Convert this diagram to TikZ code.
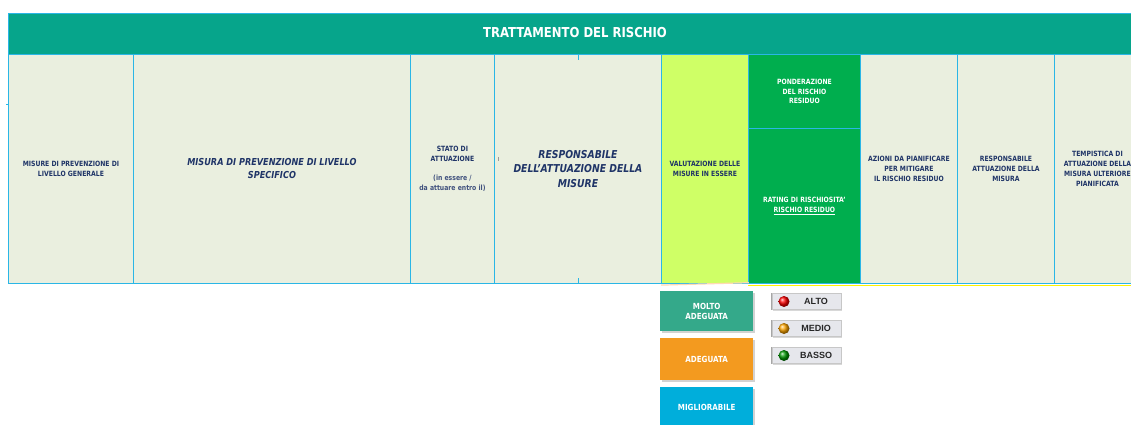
\documentclass[tikz,border=0pt]{standalone}
\usepackage{fontspec}
\setmainfont{DejaVu Sans}[FakeStretch=0.85]
\newfontfamily\btnfont{Liberation Sans}
\usetikzlibrary{shadows}
\definecolor{hdr}{HTML}{06A58B}
\definecolor{bord}{HTML}{2AB6E6}
\definecolor{cellbg}{HTML}{EAEFDF}
\definecolor{lime}{HTML}{CFFF66}
\definecolor{grn}{HTML}{00AE4E}
\definecolor{navy}{HTML}{1F3467}
\definecolor{teal}{HTML}{34A98A}
\definecolor{orng}{HTML}{F39A1F}
\definecolor{cyanb}{HTML}{00AEDB}
\definecolor{btnbg}{HTML}{E6E7EC}
\begin{document}
\begin{tikzpicture}[x=1pt,y=-1pt,
  cell/.style={draw=bord, line width=0.9pt, inner sep=0pt, anchor=north west, align=center, text=navy, fill=cellbg},
  small/.style={font=\fontsize{7.2}{9.8}\selectfont\bfseries},
  legbox/.style={inner sep=0pt, anchor=north west, minimum width=93pt, minimum height=40pt, align=center, text=white,
     font=\fontsize{8.4}{10}\selectfont\bfseries, drop shadow={shadow xshift=1.5pt, shadow yshift=-2pt, opacity=0.35}},
  btn/.style={draw=black!22, inner sep=0pt, minimum width=69pt, minimum height=16pt, fill=btnbg,
     drop shadow={shadow xshift=1pt, shadow yshift=-1.5pt, opacity=0.3}},
  btntext/.style={font=\btnfont\fontsize{9}{10}\selectfont\bfseries, text=black!85},
  ball/.style={circle, inner sep=0pt, minimum size=11pt}]
\useasboundingbox (0,0) rectangle (1131,424);
\fill[white] (0,0) rectangle (1131,424);
% header
\node[draw=bord, line width=0.9pt, fill=hdr, inner sep=0pt, anchor=north west, minimum width=1132pt, minimum height=41pt] (hdr) at (8,13) {};
\node[text=white, font=\fontsize{13.7}{16}\selectfont\bfseries] (title) at (575,33) {TRATTAMENTO DEL RISCHIO};
% columns
\node[cell, small, minimum width=125pt, minimum height=229pt] (c1) at (8,54) {MISURE DI PREVENZIONE DI\\LIVELLO GENERALE};
\node[cell, minimum width=277pt, minimum height=229pt, font=\fontsize{9.6}{13}\selectfont\bfseries\itshape] (c2) at (133,54) {MISURA DI PREVENZIONE DI LIVELLO\\SPECIFICO};
\node[cell, small, minimum width=84pt, minimum height=229pt] (c3) at (410,54) {STATO DI\\ATTUAZIONE\\[9.8pt]{\color{navy!85}(in essere /}\\{\color{navy!85}da attuare entro il)}};
\node[cell, minimum width=167pt, minimum height=229pt, font=\fontsize{10.9}{14.3}\selectfont\bfseries\itshape] (c4) at (494,54) {RESPONSABILE\\DELL’ATTUAZIONE DELLA\\MISURE};
\node[cell, small, fill=lime, minimum width=87pt, minimum height=229pt] (c5) at (661,54) {VALUTAZIONE DELLE\\MISURE IN ESSERE};
\node[cell, small, fill=grn, text=white, minimum width=112pt, minimum height=74pt] (c6a) at (748,54) {PONDERAZIONE\\DEL RISCHIO\\RESIDUO};
\node[cell, small, fill=grn, text=white, minimum width=112pt, minimum height=155pt] (c6b) at (748,128) {RATING DI RISCHIOSITA’\\\underline{RISCHIO RESIDUO}};
\node[cell, small, minimum width=97pt, minimum height=229pt] (c7) at (860,54) {AZIONI DA PIANIFICARE\\PER MITIGARE\\IL RISCHIO RESIDUO};
\node[cell, small, minimum width=97pt, minimum height=229pt] (c8) at (957,54) {RESPONSABILE\\ATTUAZIONE DELLA\\MISURA};
\node[cell, small, minimum width=86pt, minimum height=229pt] (c9) at (1054,54) {TEMPISTICA DI\\ATTUAZIONE DELLA\\MISURA ULTERIORE\\PIANIFICATA};
% small marks
\draw[bord, line width=0.9pt] (c4.north) -- ++(0,6);
\draw[bord, line width=0.9pt] (c4.south) -- ++(0,-6);
\draw[black!40, line width=0.4pt] (498,157) -- (498,161);
\draw[bord, line width=0.6pt] (6,104) -- (8,104);
\draw[orange!30, line width=1.2pt] (c5.south west) ++(0,1.2) -- ([yshift=1.2pt]c5.south east);
\draw[yellow, line width=1.4pt] (c6b.south west) ++(0,1.3) -- ++(383,0);
% legend
\node[legbox, fill=teal] (molto) at (660,291) {MOLTO\\ADEGUATA};
\node[legbox, fill=orng, minimum height=42pt] (adeg) at (660,338) {ADEGUATA};
\node[legbox, fill=cyanb, minimum height=40pt] (migl) at (660,387) {MIGLIORABILE};
% rating buttons
\node[btn] (alto) at (806.5,301.5) {};
\draw[black!35, line width=1.2pt] (alto.north west) -- (alto.south west);
\node[ball, ball color=red] (balta) at (784,301.5) {};
\node[btntext] (talto) at (816,301.5) {ALTO};
\node[btn] (medio) at (806.5,328.5) {};
\draw[black!35, line width=1.2pt] (medio.north west) -- (medio.south west);
\node[ball, ball color=orange!70!yellow] (bmedio) at (784,328.5) {};
\node[btntext] (tmedio) at (816,328.5) {MEDIO};
\node[btn] (basso) at (806.5,355.5) {};
\draw[black!35, line width=1.2pt] (basso.north west) -- (basso.south west);
\node[ball, ball color=green!60!black] (bbasso) at (784,355.5) {};
\node[btntext] (tbasso) at (816,355.5) {BASSO};
\end{tikzpicture}
\end{document}
